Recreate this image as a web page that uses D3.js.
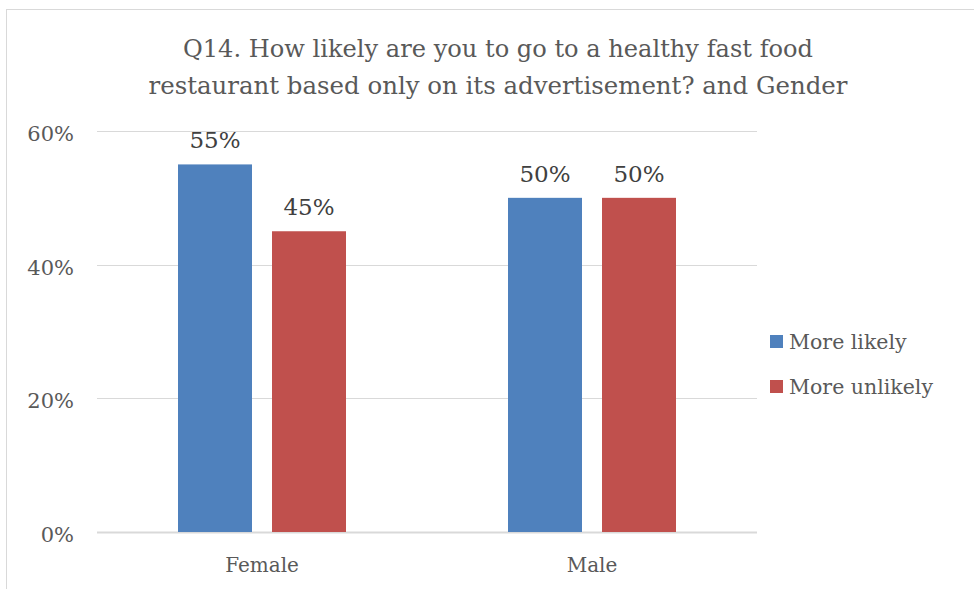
<!DOCTYPE html>
<html><head><meta charset="utf-8">
<script src="https://cdn.jsdelivr.net/npm/d3@7"></script>
<style>body{margin:0;background:#fff}svg{display:block}</style>
</head><body>
<script>
const categories = ["Female", "Male"];
const seriesNames = ["More likely", "More unlikely"];
const moreLikely = [0.55, 0.50];
const moreUnlikely = [0.45, 0.50];
const yTicks = [0, 0.2, 0.4, 0.6];
const titleLines = ["Q14. How likely are you to go to a healthy fast food", "restaurant based only on its advertisement? and Gender"];
const colors = ["#4f81bd", "#c0504d"];

const W = 974, H = 589;
const font = "'DejaVu Serif', serif";
const svg = d3.select("body").append("svg").attr("width", W).attr("height", H);
svg.append("rect").attr("x", 6.5).attr("y", 9.5).attr("width", W + 10).attr("height", H + 10)
  .attr("fill", "#fff").attr("stroke", "#d9d9d9").attr("stroke-width", 1);

const plot = {left: 97, right: 757, top: 131, bottom: 532};
const x0 = d3.scaleBand().domain(categories).range([plot.left, plot.right]).paddingInner(0.4909).paddingOuter(0.24545);
const x1 = d3.scaleBand().domain(seriesNames).range([0, x0.bandwidth()]).paddingInner(0.2128);
const y = d3.scaleLinear().domain([0, 0.6]).range([plot.bottom, plot.top]);

// gridlines
svg.append("g").selectAll("line").data(yTicks).join("line")
  .attr("x1", plot.left).attr("x2", plot.right)
  .attr("y1", d => Math.round(y(d)) + 0.5).attr("y2", d => Math.round(y(d)) + 0.5)
  .attr("stroke", "#d9d9d9").attr("stroke-width", d => d === 0 ? 2 : 1);

// y axis labels
svg.append("g").selectAll("text").data(yTicks).join("text")
  .attr("x", 74).attr("y", d => y(d) + 10).attr("text-anchor", "end")
  .attr("font-family", font).attr("font-size", 21).attr("fill", "#595959")
  .text(d3.format(".0%"));

const series = [moreLikely, moreUnlikely];
const g = svg.append("g");
series.forEach((vals, si) => {
  g.selectAll(null).data(categories).join("rect")
    .attr("x", c => x0(c) + x1(seriesNames[si]))
    .attr("width", x1.bandwidth())
    .attr("y", (c, i) => y(vals[i]))
    .attr("height", (c, i) => y(0) - y(vals[i]))
    .attr("fill", colors[si]);
  g.selectAll(null).data(categories).join("text")
    .attr("x", c => x0(c) + x1(seriesNames[si]) + x1.bandwidth() / 2)
    .attr("y", (c, i) => y(vals[i]) - 16)
    .attr("text-anchor", "middle")
    .attr("font-family", font).attr("font-size", 23).attr("fill", "#404040")
    .text((c, i) => d3.format(".0%")(vals[i]));
});

// x axis labels
svg.append("g").selectAll("text").data(categories).join("text")
  .attr("x", c => x0(c) + x0.bandwidth() / 2).attr("y", 572)
  .attr("text-anchor", "middle").attr("font-family", font).attr("font-size", 20).attr("fill", "#595959")
  .text(d => d);

// title
const titleWidths = [630, 699];
svg.append("g").selectAll("text").data(titleLines).join("text")
  .attr("x", 498).attr("y", (d, i) => 57 + i * 37)
  .attr("text-anchor", "middle").attr("font-family", font).attr("font-size", 24).attr("fill", "#595959")
  .attr("textLength", (d, i) => titleWidths[i]).attr("lengthAdjust", "spacingAndGlyphs")
  .text(d => d);

// legend
const leg = svg.append("g");
seriesNames.forEach((s, i) => {
  leg.append("rect").attr("x", 770).attr("y", 335 + i * 45).attr("width", 13).attr("height", 13).attr("fill", colors[i]);
  leg.append("text").attr("x", 789).attr("y", 349 + i * 45)
    .attr("font-family", font).attr("font-size", 20.5).attr("fill", "#595959").text(s);
});
</script>
</body></html>
